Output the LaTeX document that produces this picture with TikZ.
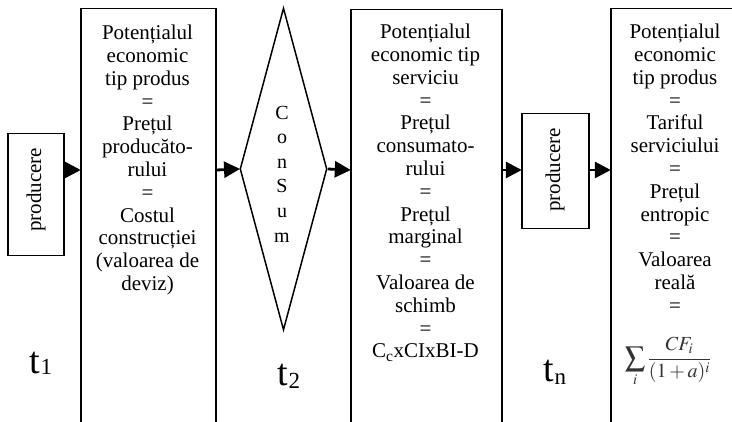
\documentclass[tikz,border=0pt]{standalone}
\usepackage{mathptmx}
\usepackage{fontspec}
\setmainfont{Liberation Serif}
\usetikzlibrary{arrows.meta,shapes.geometric}
\tikzset{
  tallbox/.style={draw=black,line width=1.5pt,rectangle,inner sep=0pt,anchor=north west},
  smallbox/.style={draw=black,line width=1.5pt,rectangle,inner sep=0pt,anchor=north west},
  body/.style={align=center,anchor=north,inner sep=0pt,font=\fontsize{21}{22.8}\selectfont},
  rottext/.style={rotate=90,inner sep=0pt,font=\fontsize{21}{22}\selectfont},
  tlab/.style={anchor=base,inner sep=0pt,font=\fontsize{38}{40}\selectfont},
  arr/.style={line width=2.8pt,-{Triangle[length=16pt,width=16pt]},shorten >=-0.8pt},
}
\newcommand{\tsub}[2]{t\raisebox{#2}{\fontsize{23}{23}\selectfont #1}}
\begin{document}
\begin{tikzpicture}[x=1pt,y=-1pt]
\useasboundingbox (0,0) rectangle (732,422);
\clip (0,0) rectangle (732,422);
\coordinate (mid) at (0,170);
% tall boxes
\node[tallbox,minimum width=135pt,minimum height=440pt] (b1) at (80,8) {};
\node[tallbox,minimum width=151pt,minimum height=440pt] (b2) at (350,9) {};
\node[tallbox,minimum width=135pt,minimum height=440pt] (b3) at (610,8) {};
% small boxes
\node[smallbox,minimum width=56pt,minimum height=122pt] (s1) at (7,133) {};
\node[rottext] (s1t) at (36,190) {producere};
\node[smallbox,minimum width=67pt,minimum height=115pt] (s2) at (521,113) {};
\node[rottext] (s2t) at (555,170) {producere};
% diamond
\node[draw=black,line width=1.5pt,diamond,inner sep=0pt,minimum width=87pt,minimum height=322pt] (d) at (283.5,169) {};
\node[align=center,inner sep=0pt,font=\fontsize{20}{24.6}\selectfont] (dt) at (282,174) {C\\o\\n\\S\\u\\m};
% texts
\node[body] (t1box) at (147.5,25) {Potențialul\\economic\\tip produs\\=\\Prețul\\producăto-\\rului\\=\\Costul\\construcției\\(valoarea de\\deviz)};
\node[body] (t2box) at (425.5,24) {Potențialul\\economic tip\\serviciu\\=\\Prețul\\consumato-\\rului\\=\\Prețul\\marginal\\=\\Valoarea de\\schimb\\=\\C\textsubscript{c}xCIxBI-D};
\node[body] (t3box) at (675,24) {Potențialul\\economic\\tip produs\\=\\Tariful\\serviciului\\=\\Prețul\\entropic\\=\\Valoarea\\reală\\=};
\node[inner sep=0pt,text=black!80,font=\fontsize{20}{24}\selectfont] (f) at (668,362) {$\displaystyle\sum_i \frac{CF_i}{(1+a)^i}$};
% time labels
\node[tlab] (l1) at (41,374) {\tsub{1}{-1pt}};
\node[tlab] (l2) at (289,386) {\tsub{2}{-3pt}};
\node[tlab] (l3) at (555,382) {\tsub{n}{-3pt}};
% arrows
\draw[arr] (s1.east |- mid) -- (b1.west |- mid);
\draw[arr] (b1.east |- mid) -- (d.west);
\draw[arr] (d.east) -- (b2.west |- mid);
\draw[arr] (b2.east |- mid) -- (s2.west |- mid);
\draw[arr] (s2.east |- mid) -- (b3.west |- mid);
\end{tikzpicture}
\end{document}
